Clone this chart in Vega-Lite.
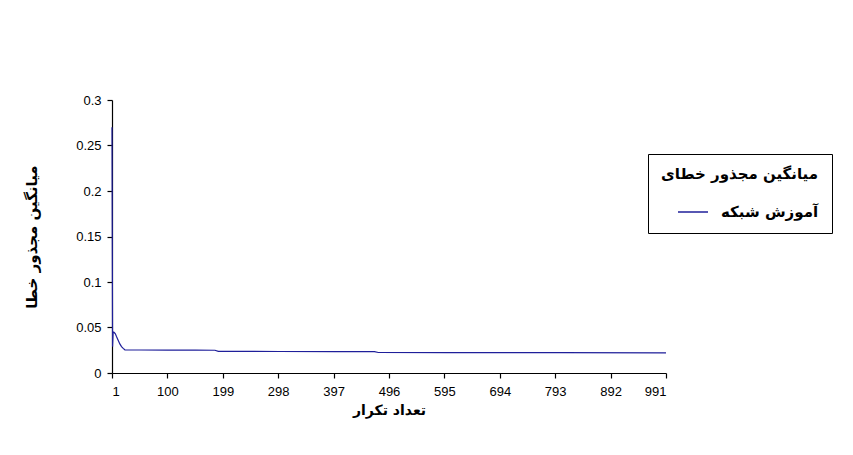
{
  "$schema": "https://vega.github.io/schema/vega-lite/v6.json",
  "description": "MSE of network training vs. iteration count",
  "width": 554,
  "height": 273,
  "autosize": {"type": "none"},
  "padding": {"left": 112, "top": 100, "right": 187, "bottom": 82},
  "background": "white",
  "data": {
    "values": [
      {"iteration": 1, "mse": 0.27, "series": "آموزش شبکه"},
      {"iteration": 2, "mse": 0.029, "series": "آموزش شبکه"},
      {"iteration": 3, "mse": 0.044, "series": "آموزش شبکه"},
      {"iteration": 4, "mse": 0.045, "series": "آموزش شبکه"},
      {"iteration": 5, "mse": 0.0445, "series": "آموزش شبکه"},
      {"iteration": 7, "mse": 0.043, "series": "آموزش شبکه"},
      {"iteration": 9, "mse": 0.04, "series": "آموزش شبکه"},
      {"iteration": 12, "mse": 0.036, "series": "آموزش شبکه"},
      {"iteration": 15, "mse": 0.032, "series": "آموزش شبکه"},
      {"iteration": 18, "mse": 0.029, "series": "آموزش شبکه"},
      {"iteration": 21, "mse": 0.027, "series": "آموزش شبکه"},
      {"iteration": 24, "mse": 0.0255, "series": "آموزش شبکه"},
      {"iteration": 50, "mse": 0.0253, "series": "آموزش شبکه"},
      {"iteration": 100, "mse": 0.0252, "series": "آموزش شبکه"},
      {"iteration": 150, "mse": 0.0251, "series": "آموزش شبکه"},
      {"iteration": 185, "mse": 0.025, "series": "آموزش شبکه"},
      {"iteration": 191, "mse": 0.0238, "series": "آموزش شبکه"},
      {"iteration": 300, "mse": 0.0236, "series": "آموزش شبکه"},
      {"iteration": 400, "mse": 0.0235, "series": "آموزش شبکه"},
      {"iteration": 470, "mse": 0.0234, "series": "آموزش شبکه"},
      {"iteration": 477, "mse": 0.0225, "series": "آموزش شبکه"},
      {"iteration": 600, "mse": 0.0224, "series": "آموزش شبکه"},
      {"iteration": 800, "mse": 0.0223, "series": "آموزش شبکه"},
      {"iteration": 991, "mse": 0.0222, "series": "آموزش شبکه"}
    ]
  },
  "mark": {"type": "line", "strokeWidth": 1.2, "interpolate": "linear"},
  "encoding": {
    "x": {
      "field": "iteration",
      "type": "quantitative",
      "scale": {"domain": [1, 991], "nice": false, "zero": false},
      "axis": {
        "values": [1, 100, 199, 298, 397, 496, 595, 694, 793, 892, 991],
        "format": "d",
        "title": "تعداد تکرار",
        "labelPadding": 7,
        "titlePadding": 5
      }
    },
    "y": {
      "field": "mse",
      "type": "quantitative",
      "scale": {"domain": [0, 0.3], "nice": false},
      "axis": {
        "values": [0, 0.05, 0.1, 0.15, 0.2, 0.25, 0.3],
        "format": ".2~f",
        "title": "میانگین مجذور خطا",
        "titleFontSize": 15,
        "labelPadding": 6,
        "titlePadding": 36
      }
    },
    "color": {
      "field": "series",
      "type": "nominal",
      "scale": {"range": ["#1f1f9a"]},
      "legend": {
        "title": "میانگین مجذور خطای",
        "orient": "none",
        "legendX": 536,
        "legendY": 54,
        "strokeColor": "black",
        "fillColor": "white",
        "padding": 13,
        "titleFont": "DejaVu Sans",
        "titleFontWeight": "bold",
        "titleFontSize": 15,
        "titleColor": "black",
        "titleAnchor": "end",
        "titlePadding": 14,
        "labelFont": "DejaVu Sans",
        "labelFontWeight": "bold",
        "labelFontSize": 15,
        "labelColor": "black",
        "symbolType": "stroke",
        "symbolSize": 900,
        "symbolStrokeWidth": 1.5,
        "labelOffset": 12
      }
    }
  },
  "config": {
    "view": {"stroke": null},
    "axis": {
      "grid": false,
      "domainColor": "black",
      "domainWidth": 1.2,
      "tickColor": "black",
      "tickWidth": 1.2,
      "tickSize": 5,
      "labelFont": "Liberation Sans",
      "labelFontSize": 13,
      "labelColor": "black",
      "titleFont": "DejaVu Sans",
      "titleFontSize": 14,
      "titleFontWeight": "bold",
      "titleColor": "black"
    }
  }
}
